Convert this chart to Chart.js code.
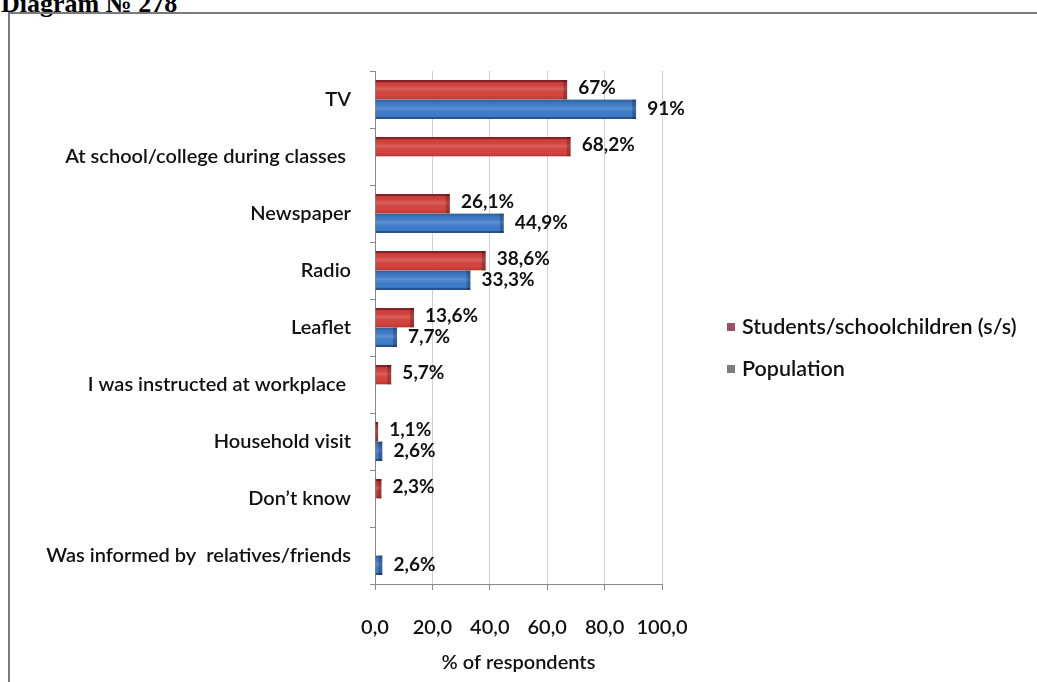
<!DOCTYPE html>
<html>
<head>
<meta charset="utf-8">
<script src="https://cdn.jsdelivr.net/npm/chart.js@4.4.1/dist/chart.umd.min.js"></script>
<style>
  html, body { margin: 0; padding: 0; background: #fff; }
  body { width: 1037px; height: 682px; position: relative; overflow: hidden; }
  #caption { position: absolute; left: 1px; top: -11px; font: bold 26px/30px "Liberation Serif", serif; color: #000; white-space: nowrap; }
  #frame { position: absolute; left: 8px; top: 12px; right: -4px; bottom: -4px; border-left: 2px solid #7a7a7a; border-top: 2px solid #7a7a7a; }
  #chart { position: absolute; left: 0; top: 0; }
</style>
</head>
<body>
<div id="caption">Diagram № 278</div>
<div id="frame"></div>
<canvas id="chart" width="1037" height="682"></canvas>
<script>
const categories = [
  'TV',
  'At school/college during classes ',
  'Newspaper',
  'Radio',
  'Leaflet',
  'I was instructed at workplace ',
  'Household visit',
  'Don\u2019t know',
  'Was informed by  relatives/friends'
];
const students = [67, 68.2, 26.1, 38.6, 13.6, 5.7, 1.1, 2.3, null];
const population = [91, null, 44.9, 33.3, 7.7, null, 2.6, null, 2.6];
const seriesNames = ['Students/schoolchildren (s/s)', 'Population'];
const xTicks = [0, 20, 40, 60, 80, 100];

const FONT = 'Lato, "Open Sans", sans-serif';
const fmt = v => (Number.isInteger(v) ? String(v) : v.toFixed(1).replace('.', ',')) + '%';

// shading, value labels and the legend on the right
const decor = {
  id: 'decor',
  afterDatasetsDraw(chart) {
    const ctx = chart.ctx;
    ctx.save();
    chart.data.datasets.forEach((ds, i) => {
      chart.getDatasetMeta(i).data.forEach((bar, j) => {
        if (ds.data[j] == null) return;
        const p = bar.getProps(['x', 'y', 'base', 'height'], true);
        const top = p.y - p.height / 2;
        const g = ctx.createLinearGradient(0, top, 0, top + p.height);
        g.addColorStop(0, 'rgba(0,0,0,0.28)');
        g.addColorStop(0.18, 'rgba(0,0,0,0.04)');
        g.addColorStop(0.45, 'rgba(255,255,255,0.16)');
        g.addColorStop(0.8, 'rgba(0,0,0,0)');
        g.addColorStop(1, 'rgba(0,0,0,0.18)');
        ctx.fillStyle = g;
        ctx.fillRect(p.base, top, p.x - p.base, p.height);
        ctx.fillStyle = 'rgba(0,0,0,0.22)';
        ctx.fillRect(Math.max(p.base, p.x - 4), top, Math.min(4, p.x - p.base), p.height);
      });
    });
    ctx.restore();
  },
  afterDraw(chart) {
    const ctx = chart.ctx;
    ctx.save();
    ctx.font = 'bold 19px ' + FONT;
    ctx.fillStyle = '#111';
    ctx.textBaseline = 'middle';
    ctx.textAlign = 'left';
    chart.data.datasets.forEach((ds, i) => {
      chart.getDatasetMeta(i).data.forEach((bar, j) => {
        const v = ds.data[j];
        if (v == null) return;
        ctx.fillText(fmt(v), bar.x + 11, bar.y - (i === 0 ? 2 : 0));
      });
    });
    // legend
    ctx.font = '600 21.5px ' + FONT;
    chart.data.datasets.forEach((ds, i) => {
      const y = 327 + i * 42;
      ctx.fillStyle = ds.legendColor;
      ctx.fillRect(727, y - 4, 8, 8);
      ctx.fillStyle = '#111';
      ctx.fillText(ds.label, 742, y);
    });
    ctx.restore();
  }
};

new Chart(document.getElementById('chart'), {
  type: 'bar',
  data: {
    labels: categories,
    datasets: [
      {
        label: seriesNames[0],
        data: students,
        backgroundColor: '#d8433d',
        borderColor: '#a82a2e',
        borderWidth: { top: 2, bottom: 0, left: 0, right: 0 },
        legendColor: '#9b4f69'
      },
      {
        label: seriesNames[1],
        data: population,
        backgroundColor: '#3e7ecd',
        borderColor: '#2d5f9e',
        borderWidth: { top: 0, bottom: 2, left: 0, right: 0 },
        legendColor: '#7d7d7d'
      }
    ]
  },
  options: {
    indexAxis: 'y',
    responsive: false,
    animation: false,
    categoryPercentage: 0.68,
    barPercentage: 1.0,
    layout: { padding: { top: 71, right: 375, left: 0, bottom: 0 } },
    plugins: {
      legend: { display: false },
      tooltip: { enabled: false }
    },
    scales: {
      x: {
        min: 0,
        max: 100,
        afterBuildTicks: s => { s.ticks = xTicks.map(v => ({ value: v })); },
        afterFit: s => { s.height = 98; },
        ticks: {
          padding: 26,
          color: '#111',
          font: { family: FONT, size: 20, weight: '600' },
          callback: v => v.toFixed(1).replace('.', ',')
        },
        grid: { color: '#d0d0d0', tickColor: '#888', tickLength: 6 },
        border: { color: '#888' },
        title: {
          display: true,
          text: '% of respondents',
          color: '#111',
          font: { family: FONT, size: 20, weight: '600' },
          padding: { top: 0, bottom: 7 }
        }
      },
      y: {
        afterFit: s => { s.width = 375; },
        ticks: {
          padding: 19,
          color: '#111',
          font: { family: FONT, size: 20, weight: '600' }
        },
        grid: { drawOnChartArea: false, color: '#888', tickLength: 5 },
        border: { color: '#888' }
      }
    }
  },
  plugins: [decor]
});
</script>
</body>
</html>
